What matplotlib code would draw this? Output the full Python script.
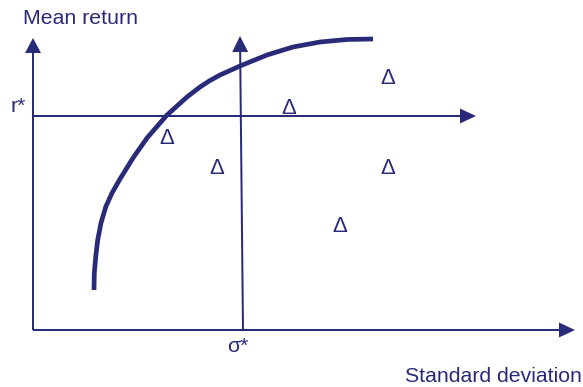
import matplotlib
matplotlib.use("Agg")
import matplotlib.pyplot as plt

NAVY = "#2a2b78"

# Frontier curve (sigma, return) in chart units (pixel-like, y downward)
curve_x = [94, 94.3, 95.7, 97.7, 101, 105.7, 112, 120, 133, 147, 167, 187, 200, 210, 220, 240, 267, 293, 320, 347, 373]
curve_y = [290, 273, 257, 240, 223, 207, 193, 179, 158, 138, 115, 97, 87, 80.5, 75, 66, 55, 47, 42, 39.5, 39]

# Individual assets (Δ markers)
asset_x = [167, 217, 289, 388, 388, 340]
asset_y = [138, 168, 109, 79, 168, 227]

origin = (33, 330)
r_star = 116
sigma_star_bottom = 243
sigma_star_top = 240

fig = plt.figure(figsize=(5.83, 3.87), dpi=100)
ax = fig.add_axes([0, 0, 1, 1])
ax.set_xlim(0, 583)
ax.set_ylim(387, 0)
ax.axis("off")

def arrow(x0, y0, x1, y1, hw=15, hl=16):
    ax.arrow(x0, y0, x1 - x0, y1 - y0, width=2, head_width=hw, head_length=hl,
             length_includes_head=True, color=NAVY, lw=0)

# axes
arrow(origin[0], origin[1], origin[0], 38, hw=16, hl=15)
arrow(origin[0], origin[1], 575, origin[1], hw=15, hl=16)
# r* line
arrow(origin[0], r_star, 476, r_star, hw=15, hl=16)
# sigma* line
arrow(sigma_star_bottom, origin[1], sigma_star_top, 36, hw=16, hl=16)

# frontier
ax.plot(curve_x, curve_y, color=NAVY, lw=3.4, solid_capstyle="butt", solid_joinstyle="round")

font = "Liberation Sans"
for x, y in zip(asset_x, asset_y):
    ax.text(x, y, "Δ", color=NAVY, fontsize=16, family=font, ha="center", va="center")

fs = 15.3
ax.text(23, 19, "Mean return", color=NAVY, fontsize=fs, family=font, ha="left", va="center")
ax.text(10, 107, "r*", color=NAVY, fontsize=fs, family=font, ha="left", va="center")
ax.text(238, 347, "σ*", color=NAVY, fontsize=fs, family=font, ha="center", va="center")
ax.text(582, 376, "Standard deviation", color=NAVY, fontsize=fs, family=font, ha="right", va="center")

fig.savefig("out.png", dpi=100)
